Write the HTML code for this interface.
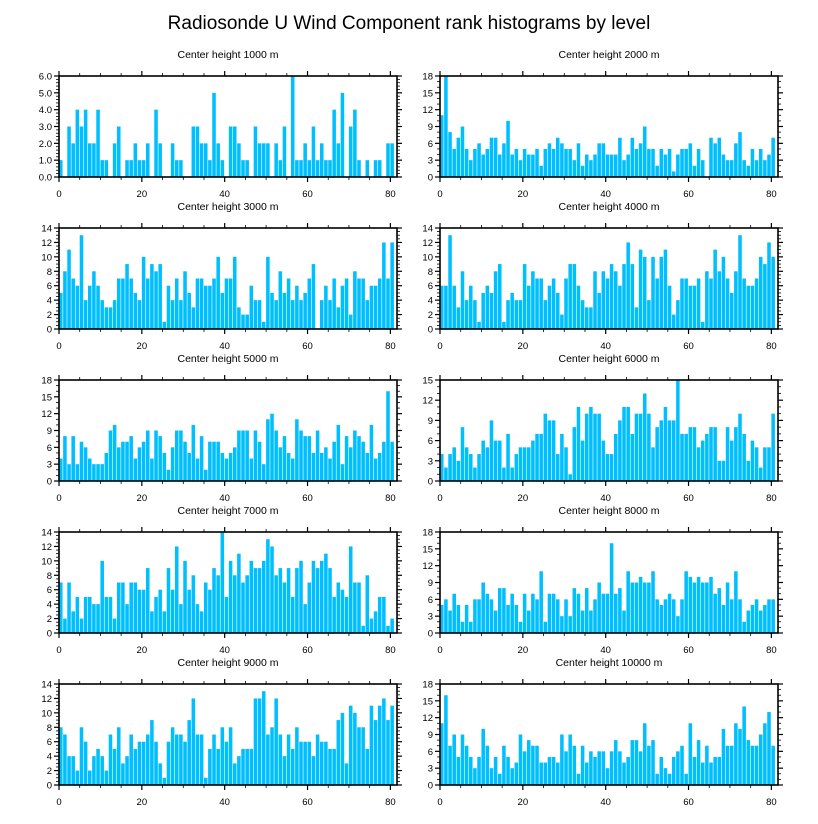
<!DOCTYPE html>
<html><head><meta charset="utf-8"><style>
html,body{margin:0;padding:0;background:#fff;}
svg{display:block;font-family:"Liberation Sans",sans-serif;}
</style></head><body>
<svg id="chart" width="818" height="824" viewBox="0 0 818 824" xmlns="http://www.w3.org/2000/svg">
<text x="409" y="29" text-anchor="middle" font-size="19">Radiosonde U Wind Component rank histograms by level</text>
</svg>
<script>
const levels = [1000,2000,3000,4000,5000,6000,7000,8000,9000,10000];
const yMax = [6,18,14,14,18,15,14,18,14,18];
const yStep = [1,3,2,2,3,3,2,3,2,3];
const xTicks = [0,20,40,60,80];
const counts1000 = [1,0,3,2,4,3,4,2,2,4,1,1,0,2,3,0,1,1,2,1,1,2,0,4,2,0,0,2,1,1,0,0,3,3,2,2,1,5,2,1,0,3,3,2,1,1,0,3,2,2,2,0,2,1,3,0,6,1,1,2,1,3,1,2,1,1,4,2,5,0,3,4,1,0,1,0,1,1,0,2,2];
const counts2000 = [11,18,8,5,7,9,5,3,5,6,4,5,7,7,4,6,10,4,5,3,5,4,4,5,2,5,6,5,7,6,5,5,3,6,2,4,3,4,6,6,4,4,4,7,3,4,7,5,6,9,5,5,2,5,4,5,1,4,5,5,6,2,5,3,0,7,6,7,4,3,3,6,8,3,2,5,3,5,3,4,7];
const counts3000 = [5,8,11,7,6,13,4,6,8,6,4,3,3,4,7,7,9,7,5,4,10,7,9,8,9,1,6,4,7,4,8,5,3,7,7,6,6,7,10,5,7,7,10,3,2,2,6,4,4,1,10,5,4,8,5,7,4,6,4,5,7,9,0,4,6,4,7,3,6,7,2,8,7,7,4,6,6,7,12,7,12];
const counts4000 = [6,6,13,6,3,8,4,6,4,1,5,6,5,8,9,1,4,5,4,4,9,6,8,7,7,4,6,7,5,2,7,9,9,6,4,3,3,8,5,8,7,9,8,6,9,12,9,3,11,10,4,10,7,10,11,6,2,4,7,7,6,6,7,1,8,7,11,8,10,7,5,8,13,7,6,6,7,10,9,12,10];
const counts5000 = [4,8,3,8,3,7,6,4,3,3,3,5,9,10,6,7,7,8,4,6,7,9,4,9,8,5,2,6,9,9,7,5,10,4,8,2,7,7,7,5,4,5,6,9,9,9,4,9,7,3,11,12,9,6,8,5,4,11,9,8,8,5,9,5,6,4,7,10,3,8,6,9,8,7,5,10,4,5,7,16,7];
const counts6000 = [4,2,4,5,3,8,5,4,2,4,6,5,9,6,6,2,7,2,4,5,5,5,6,7,7,10,9,9,4,7,5,1,8,11,6,10,11,10,10,6,4,4,7,9,11,11,7,10,10,13,10,5,8,9,11,9,9,15,7,7,8,8,5,6,7,8,8,3,3,8,6,8,10,7,3,6,5,2,5,5,10];
const counts7000 = [7,2,7,3,5,2,5,5,4,4,10,5,5,2,7,7,4,7,7,6,6,9,3,5,6,3,9,6,12,4,10,6,8,4,3,7,6,9,8,14,5,10,8,11,7,8,10,9,9,10,13,12,8,9,7,9,5,9,10,4,7,10,9,10,11,9,5,7,6,5,12,7,7,1,8,2,3,5,5,1,2];
const counts8000 = [5,6,4,7,5,2,5,2,6,6,9,7,6,4,8,8,5,7,5,2,7,4,7,6,11,2,7,7,6,3,6,3,8,7,4,8,4,6,9,7,7,16,7,8,4,11,9,9,10,9,9,11,6,5,6,7,6,3,6,11,10,9,10,9,9,10,7,8,5,9,6,11,6,2,4,5,6,4,5,6,6];
const counts9000 = [8,7,4,4,2,8,6,2,4,5,4,2,7,5,8,3,4,7,5,6,6,7,9,6,3,1,6,8,7,7,6,9,12,7,7,1,5,7,5,8,6,8,3,4,5,5,5,12,12,13,7,8,12,7,4,7,5,8,6,6,6,4,7,6,6,5,5,9,10,3,11,10,8,8,5,11,9,11,12,9,11];
const counts10000 = [11,16,7,9,5,9,7,5,3,5,10,7,3,5,2,7,5,3,4,9,6,8,7,7,4,4,5,5,4,9,6,9,7,2,7,4,6,5,6,6,3,6,8,6,4,5,8,8,6,11,7,8,2,5,3,2,5,6,7,2,11,5,8,4,7,4,5,5,10,7,7,11,10,14,8,7,7,9,11,13,7];
const allCounts = [counts1000,counts2000,counts3000,counts4000,counts5000,counts6000,counts7000,counts8000,counts9000,counts10000];

const NS = "http://www.w3.org/2000/svg";
const svg = document.getElementById('chart');
const XMAX = 81.6, PW = 338, PH = 101;
function mk(tag, attrs, parent){ const e=document.createElementNS(NS,tag); for(const k in attrs) e.setAttribute(k,attrs[k]); parent.appendChild(e); return e; }

levels.forEach((lev, p) => {
  const col = p % 2, row = Math.floor(p/2);
  const L = col===0 ? 59 : 440, T = 76 + row*152;
  const xs = v => L + v/XMAX*PW;
  const ys = v => T + PH - v/yMax[p]*PH;
  const g = mk('g', {}, svg);
  
  
  const t = mk('text', {x: L+PW/2, y: T-18, 'text-anchor':'middle', 'font-size':'10.5'}, g);
  t.textContent = 'Center height ' + lev + ' m';
  
  
  const data = allCounts[p];
  data.forEach((v, i) => {
    if (v <= 0) return;
    const r = mk('rect', {x: xs(i), y: ys(v), width: xs(i+1)-xs(i)-0.6, height: ys(0)-ys(v), fill:'#00bfff'}, g);
    
    
  });
  // y ticks
  const nMinor = yStep[p]===1 ? 5 : (yStep[p]===3 ? 3 : 4);
  for (let v = 0; v <= yMax[p]+1e-9; v += yStep[p]) {
    const y = ys(v);
    mk('line', {x1:L-5, x2:L, y1:y, y2:y, stroke:'#000', 'stroke-width':1.2}, g);
    mk('line', {x1:L+PW, x2:L+PW+5, y1:y, y2:y, stroke:'#000', 'stroke-width':1.2}, g);
    const lb = mk('text', {x:L-7, y:y+3.5, 'text-anchor':'end', 'font-size':'9.5'}, g);
    lb.textContent = yStep[p]===1 ? v.toFixed(1) : String(v);
    
    
    if (v < yMax[p]) for (let m=1; m<nMinor; m++) {
      const ym = ys(v + m*yStep[p]/nMinor);
      mk('line', {x1:L-3, x2:L, y1:ym, y2:ym, stroke:'#000', 'stroke-width':0.8}, g);
      mk('line', {x1:L+PW, x2:L+PW+3, y1:ym, y2:ym, stroke:'#000', 'stroke-width':0.8}, g);
    }
  }
  // x ticks
  for (let v = 0; v <= XMAX; v += 5) {
    const x = xs(v), major = v % 20 === 0, len = major ? 5 : 3;
    mk('line', {x1:x, x2:x, y1:T-len, y2:T, stroke:'#000', 'stroke-width': major?1.2:0.8}, g);
    mk('line', {x1:x, x2:x, y1:T+PH, y2:T+PH+len, stroke:'#000', 'stroke-width': major?1.2:0.8}, g);
  }
  xTicks.forEach(v => {
    const lb = mk('text', {x: xs(v), y: T+PH+20, 'text-anchor':'middle', 'font-size':'9.5'}, g);
    lb.textContent = String(v);
    
    
  });
  const fr = mk('rect', {x:L, y:T, width:PW, height:PH, fill:'none', stroke:'#000', 'stroke-width':1.6}, g);
  
  
});
</script>
</body></html>
